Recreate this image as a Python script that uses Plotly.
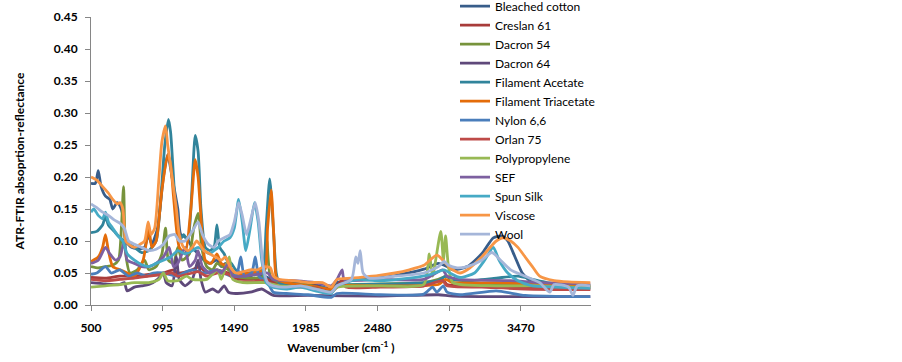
import plotly.graph_objects as go

# ---------------- data (wavenumber cm-1, absorbance) ----------------
series_names = ["Bleached cotton", "Creslan 61", "Dacron 54", "Dacron 64", "Filament Acetate",
                "Filament Triacetate", "Nylon 6,6", "Orlan 75", "Polypropylene", "SEF",
                "Spun Silk", "Viscose", "Wool"]

wn_cotton = [500, 530, 550, 570, 600, 630, 650, 680, 700, 720, 740, 780, 820, 870, 895, 920, 960, 1000, 1030, 1060,
             1100, 1120, 1160, 1200, 1240, 1280, 1320, 1370, 1400, 1430, 1460, 1500, 1600, 1640, 1700, 1750, 1800,
             2000, 2160, 2200, 2480, 2600, 2800, 2900, 2960, 3000, 3100, 3200, 3280, 3340, 3380, 3430, 3480, 3550,
             3650, 3800, 3950]
ab_cotton = [.19, .19, .21, .185, .17, .165, .15, .16, .155, .14, .10, .09, .088, .09, .11, .095, .12, .20, .235, .20,
             .15, .11, .105, .09, .08, .07, .065, .07, .06, .065, .055, .045, .045, .05, .045, .04, .035,
             .035, .025, .035, .042, .046, .056, .065, .06, .055, .06, .08, .105, .108, .10, .075, .05, .035,
             .03, .028, .028]

wn_creslan = [500, 600, 700, 800, 900, 1000, 1070, 1100, 1200, 1250, 1300, 1360, 1450, 1500, 1600, 1700, 1760, 1900,
              2050, 2160, 2200, 2240, 2260, 2500, 2800, 2930, 2960, 3200, 3500, 3950]
ab_creslan = [.043, .042, .045, .045, .048, .05, .055, .05, .055, .06, .05, .055, .05, .042, .04, .042, .035, .032,
              .03, .022, .03, .04, .032, .03, .03, .04, .032, .03, .028, .025]

wn_dacron54 = [500, 550, 600, 650, 690, 710, 725, 740, 770, 820, 870, 900, 950, 990, 1015, 1035, 1070, 1100, 1130,
               1180, 1210, 1240, 1265, 1300, 1340, 1370, 1410, 1450, 1500, 1600, 1690, 1715, 1740, 1800, 2000, 2160,
               2200, 2500, 2800, 2900, 2960, 3000, 3400, 3950]
ab_dacron54 = [.06, .058, .06, .062, .07, .12, .185, .08, .05, .055, .07, .055, .06, .08, .12, .07, .065, .09, .07,
               .08, .12, .143, .09, .06, .055, .065, .06, .055, .045, .042, .045, .10, .045, .035, .032, .022,
               .03, .033, .035, .04, .045, .035, .033, .03]

wn_dacron64 = [500, 600, 700, 730, 750, 800, 850, 900, 960, 1000, 1020, 1060, 1090, 1110, 1150, 1200, 1240, 1260, 1290,
               1340, 1380, 1420, 1450, 1500, 1600, 1680, 1720, 1760, 2000, 2500, 2900, 3000, 3950]
ab_dacron64 = [.035, .033, .032, .035, .022, .028, .03, .032, .04, .05, .035, .03, .075, .04, .03, .04, .07, .04, .02,
               .025, .02, .03, .02, .018, .02, .025, .02, .015, .015, .014, .016, .014, .013]

wn_acetate = [500, 540, 580, 600, 620, 660, 700, 740, 800, 850, 900, 950, 980, 1010, 1035, 1050, 1070, 1090, 1110, 1140,
              1170, 1195, 1220, 1240, 1260, 1290, 1320, 1350, 1370, 1390, 1420, 1440, 1470, 1500, 1550, 1600, 1650,
              1690, 1710, 1735, 1760, 1780, 1800, 1900, 2000, 2050, 2100, 2160, 2200, 2400, 2600, 2800, 2900, 2950,
              3000, 3100, 3300, 3450, 3550, 3650, 3800, 3950]
ab_acetate = [.113, .115, .125, .138, .125, .115, .105, .098, .09, .082, .085, .10, .16, .25, .29, .27, .20, .13, .10, .11,
              .10, .17, .265, .24, .15, .09, .085, .09, .125, .09, .08, .07, .065, .055, .05, .05, .052,
              .06, .12, .197, .12, .05, .035, .03, .03, .025, .028, .02, .03, .032, .033, .035, .038, .045,
              .04, .038, .042, .045, .04, .035, .033, .03]

wn_triacetate = [500, 550, 580, 600, 620, 650, 700, 750, 800, 860, 900, 920, 950, 990, 1030, 1050, 1070, 1090, 1110,
                 1150, 1190, 1220, 1240, 1265, 1290, 1330, 1370, 1400, 1450, 1500, 1600, 1700, 1720, 1745, 1765, 1785,
                 1850, 2000, 2160, 2200, 2500, 2900, 2950, 3000, 3300, 3600, 3950]
ab_triacetate = [.068, .075, .09, .11, .085, .06, .055, .05, .045, .07, .12, .09, .10, .18, .235, .22, .17, .12, .09,
                 .08, .15, .227, .20, .12, .07, .065, .08, .065, .06, .05, .05, .055, .12, .18, .10, .04,
                 .035, .03, .025, .03, .03, .032, .04, .035, .035, .032, .03]

wn_nylon = [500, 540, 600, 640, 700, 760, 820, 880, 930, 1000, 1100, 1140, 1200, 1280, 1370, 1420, 1470, 1510, 1535,
            1560, 1610, 1635, 1660, 1720, 1760, 1850, 2000, 2160, 2200, 2500, 2800, 2860, 2890, 2935, 2960, 3050,
            3300, 3500, 3950]
ab_nylon = [.048, .05, .06, .05, .055, .045, .05, .045, .05, .05, .045, .05, .055, .05, .055, .05, .045, .05, .075,
            .045, .05, .075, .045, .035, .02, .018, .016, .012, .018, .016, .017, .028, .02, .03, .02, .016,
            .022, .015, .013]

wn_orlan = [500, 600, 700, 800, 900, 1000, 1060, 1100, 1200, 1240, 1300, 1370, 1450, 1500, 1600, 1700, 1760, 1900,
            2050, 2160, 2200, 2240, 2260, 2500, 2800, 2930, 2960, 3200, 3500, 3950]
ab_orlan = [.04, .038, .04, .042, .045, .048, .05, .045, .05, .052, .045, .05, .048, .038, .036, .038, .03, .028,
            .027, .02, .028, .035, .028, .028, .03, .038, .03, .028, .025, .024]

wn_pp = [500, 600, 700, 800, 900, 970, 1000, 1030, 1100, 1160, 1200, 1300, 1375, 1400, 1455, 1480, 1550, 1700, 1800,
         2000, 2160, 2200, 2500, 2800, 2838, 2860, 2917, 2935, 2950, 2970, 3000, 3300, 3600, 3950]
ab_pp = [.028, .03, .032, .035, .035, .04, .05, .038, .038, .045, .04, .04, .055, .04, .075, .04, .035, .035, .03,
         .028, .02, .028, .03, .032, .08, .045, .115, .07, .108, .06, .035, .03, .03, .027]

wn_sef = [500, 550, 600, 630, 670, 700, 730, 750, 800, 850, 900, 950, 1000, 1040, 1070, 1100, 1150, 1180, 1220, 1240,
          1270, 1320, 1370, 1400, 1450, 1480, 1550, 1650, 1720, 1760, 1900, 2050, 2160, 2200, 2235, 2250, 2500,
          2800, 2930, 2960, 3050, 3400, 3600, 3950]
ab_sef = [.065, .07, .09, .08, .07, .075, .10, .07, .065, .06, .06, .065, .075, .09, .06, .065, .09, .06, .07, .085,
          .06, .05, .055, .05, .065, .045, .045, .048, .05, .04, .038, .035, .03, .04, .055, .04, .04,
          .04, .055, .045, .04, .038, .035, .033]

wn_silk = [500, 520, 550, 580, 600, 620, 650, 680, 700, 720, 750, 800, 850, 900, 950, 1000, 1050, 1100, 1150, 1200,
           1240, 1280, 1320, 1350, 1380, 1420, 1460, 1490, 1520, 1545, 1570, 1600, 1630, 1655, 1680, 1710, 1750,
           1850, 1950, 2050, 2160, 2200, 2350, 2480, 2700, 2850, 2940, 2980, 3050, 3150, 3220, 3280, 3320, 3380,
           3450, 3550, 3700, 3950]
ab_silk = [.145, .15, .14, .135, .145, .13, .12, .11, .105, .10, .08, .07, .063, .06, .065, .07, .075, .085, .08, .085,
           .09, .085, .08, .085, .09, .10, .105, .12, .165, .13, .085, .12, .16, .13, .07, .035, .028,
           .025, .028, .022, .018, .03, .04, .038, .042, .048, .055, .05, .043, .05, .07, .09, .07, .05,
           .038, .03, .028, .026]

wn_viscose = [500, 540, 580, 620, 650, 680, 700, 720, 740, 760, 800, 840, 870, 895, 915, 940, 970, 990, 1015, 1030,
              1060, 1090, 1110, 1140, 1170, 1200, 1230, 1250, 1280, 1320, 1360, 1400, 1430, 1460, 1500, 1550, 1600,
              1650, 1700, 1740, 1760, 1800, 1900, 2000, 2100, 2160, 2200, 2300, 2480, 2600, 2700, 2800, 2890, 2940,
              2980, 3050, 3100, 3200, 3300, 3350, 3400, 3450, 3500, 3550, 3600, 3700, 3800, 3950]
ab_viscose = [.20, .195, .185, .175, .165, .158, .16, .15, .10, .095, .09, .095, .10, .13, .11, .12, .20, .255, .28, .25,
              .20, .15, .11, .09, .085, .09, .10, .095, .085, .08, .075, .07, .075, .06, .05, .052, .055,
              .055, .06, .058, .045, .04, .038, .035, .035, .028, .04, .042, .046, .05, .055, .062, .078, .068,
              .058, .05, .055, .075, .10, .105, .10, .09, .075, .06, .045, .038, .036, .035]

wn_wool = [500, 540, 580, 620, 660, 700, 730, 760, 800, 850, 900, 950, 1000, 1040, 1080, 1110, 1150, 1200, 1240, 1270,
           1310, 1350, 1380, 1420, 1460, 1490, 1520, 1545, 1575, 1600, 1635, 1660, 1690, 1720, 1760, 1850, 1950,
           2050, 2160, 2200, 2300, 2330, 2345, 2360, 2380, 2420, 2600, 2800, 2900, 2940, 2970, 3030, 3100, 3200,
           3270, 3330, 3400, 3500, 3600, 3670, 3700, 3800, 3830, 3860, 3950]
ab_wool = [.158, .152, .145, .14, .133, .128, .12, .10, .095, .09, .085, .087, .095, .108, .11, .10, .10, .115, .13, .11,
           .095, .09, .10, .105, .11, .13, .16, .14, .11, .13, .16, .13, .06, .035, .03, .028, .03,
           .025, .02, .03, .04, .075, .065, .085, .05, .042, .045, .05, .06, .068, .062, .058, .06, .07,
           .082, .07, .055, .045, .035, .02, .032, .028, .015, .03, .03]

series_x = [wn_cotton, wn_creslan, wn_dacron54, wn_dacron64, wn_acetate, wn_triacetate, wn_nylon,
            wn_orlan, wn_pp, wn_sef, wn_silk, wn_viscose, wn_wool]
series_y = [ab_cotton, ab_creslan, ab_dacron54, ab_dacron64, ab_acetate, ab_triacetate, ab_nylon,
            ab_orlan, ab_pp, ab_sef, ab_silk, ab_viscose, ab_wool]
colors = ["#385D8A", "#A83C3A", "#77933C", "#5F497A", "#31849B", "#E46C0A", "#4A7EBB",
          "#BE4B48", "#98B954", "#7D60A0", "#46AAC5", "#F79646", "#A5B6D9"]

x_ticks = [500, 995, 1490, 1985, 2480, 2975, 3470]
y_ticks = [0.00, 0.05, 0.10, 0.15, 0.20, 0.25, 0.30, 0.35, 0.40, 0.45]

# ---------------- figure ----------------
fig = go.Figure()
for name, xs, ys, c in zip(series_names, series_x, series_y, colors):
    fig.add_trace(go.Scatter(x=xs, y=ys, name=name, mode="lines", hoverinfo="skip",
                             line=dict(color=c, width=2.8, shape="spline", smoothing=0.6)))

font_family = "Lato, 'Open Sans', Arial, sans-serif"
fig.update_layout(
    width=902, height=362,
    margin=dict(l=91, r=311, t=17, b=57, autoexpand=False),
    plot_bgcolor="white", paper_bgcolor="white",
    font=dict(family=font_family, size=12, color="black"),
    showlegend=True, hovermode=False,
    legend=dict(x=0.728, y=1.088, xanchor="left", yanchor="top", maxheight=350,
                bgcolor="rgba(0,0,0,0)", font=dict(size=12, family=font_family),
                tracegroupgap=0),
    xaxis=dict(range=[500, 3955], tickvals=x_ticks, ticktext=[str(v) for v in x_ticks],
               showline=True, linecolor="#868686", linewidth=1, ticks="outside", ticklen=5,
               tickcolor="#868686", showgrid=False, zeroline=False, automargin=False,
               ticklabelstandoff=7,
               tickfont=dict(size=12, family=font_family, weight="bold"),
               title=dict(text="Wavenumber (cm<sup>-1</sup> )", standoff=9,
                          font=dict(size=12, family=font_family, weight="bold"))),
    yaxis=dict(range=[0, 0.45], tickvals=y_ticks, tickformat=".2f",
               showline=True, linecolor="#868686", linewidth=1, ticks="outside", ticklen=5,
               tickcolor="#868686", showgrid=False, zeroline=False, ticklabelstandoff=5, automargin=False,
               tickfont=dict(size=12, family=font_family, weight="bold"),
               title=dict(text="ATR-FTIR absoprtion-reflectance", standoff=26,
                          font=dict(size=12, family=font_family, weight="bold"))),
)

fig.write_html("out.html", config={"displayModeBar": False},
               post_script="document.body.style.margin='0';document.body.style.padding='0';")
